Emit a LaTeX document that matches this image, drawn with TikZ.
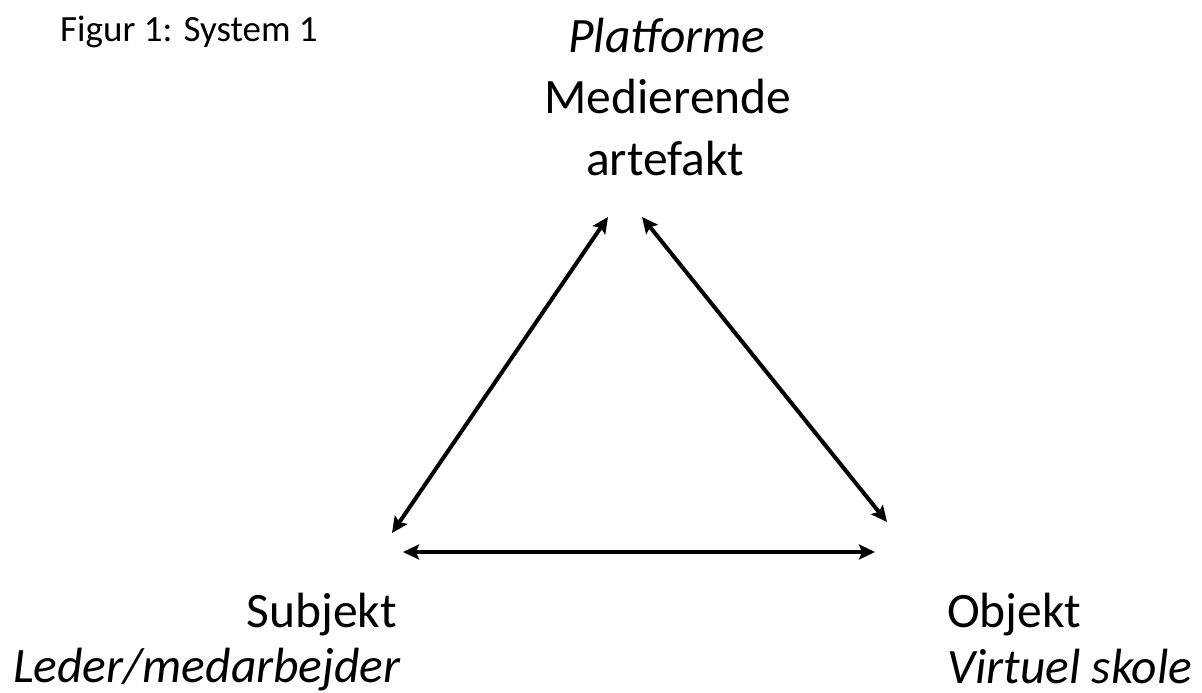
\documentclass[tikz,border=0pt]{standalone}
\usepackage{fontspec}
\setmainfont{Carlito}
\usetikzlibrary{arrows.meta}
\begin{document}
\begin{tikzpicture}[x=1pt,y=-1pt,
  lbl/.style={inner sep=0pt,font=\fontsize{49.5}{61}\selectfont},
  ttl/.style={inner sep=0pt,font=\fontsize{37}{44}\selectfont},
  conn/.style={line width=4pt,{Stealth[length=16pt,width=15pt,inset=3pt]}-{Stealth[length=16pt,width=15pt,inset=3pt]}}]
\useasboundingbox (0,0) rectangle (1202,693);
\node[ttl,anchor=base west] (title) at (60,42) {Figur 1: System 1};
\node[lbl,anchor=base] (top1) at (667,53) {\textit{Platforme}};
\node[lbl,anchor=base] (top2) at (668,113) {Medierende};
\node[lbl,anchor=base] (top3) at (665,175) {artefakt};
\node[lbl,anchor=base east] (subj) at (397,627) {Subjekt};
\node[lbl,anchor=base east] (subjb) at (401,682) {\textit{Leder/medarbejder}};
\node[lbl,anchor=base west] (obj) at (947,627) {Objekt};
\node[lbl,anchor=base west] (objb) at (947,683) {\textit{Virtuel skole}};
\coordinate (a1) at (392,533);
\coordinate (a2) at (608,217);
\coordinate (b1) at (642,217);
\coordinate (b2) at (887,522);
\coordinate (c1) at (403,552);
\coordinate (c2) at (875,552);
\draw[conn] (a1) -- (a2);
\draw[conn] (b1) -- (b2);
\draw[conn] (c1) -- (c2);
\end{tikzpicture}
\end{document}
